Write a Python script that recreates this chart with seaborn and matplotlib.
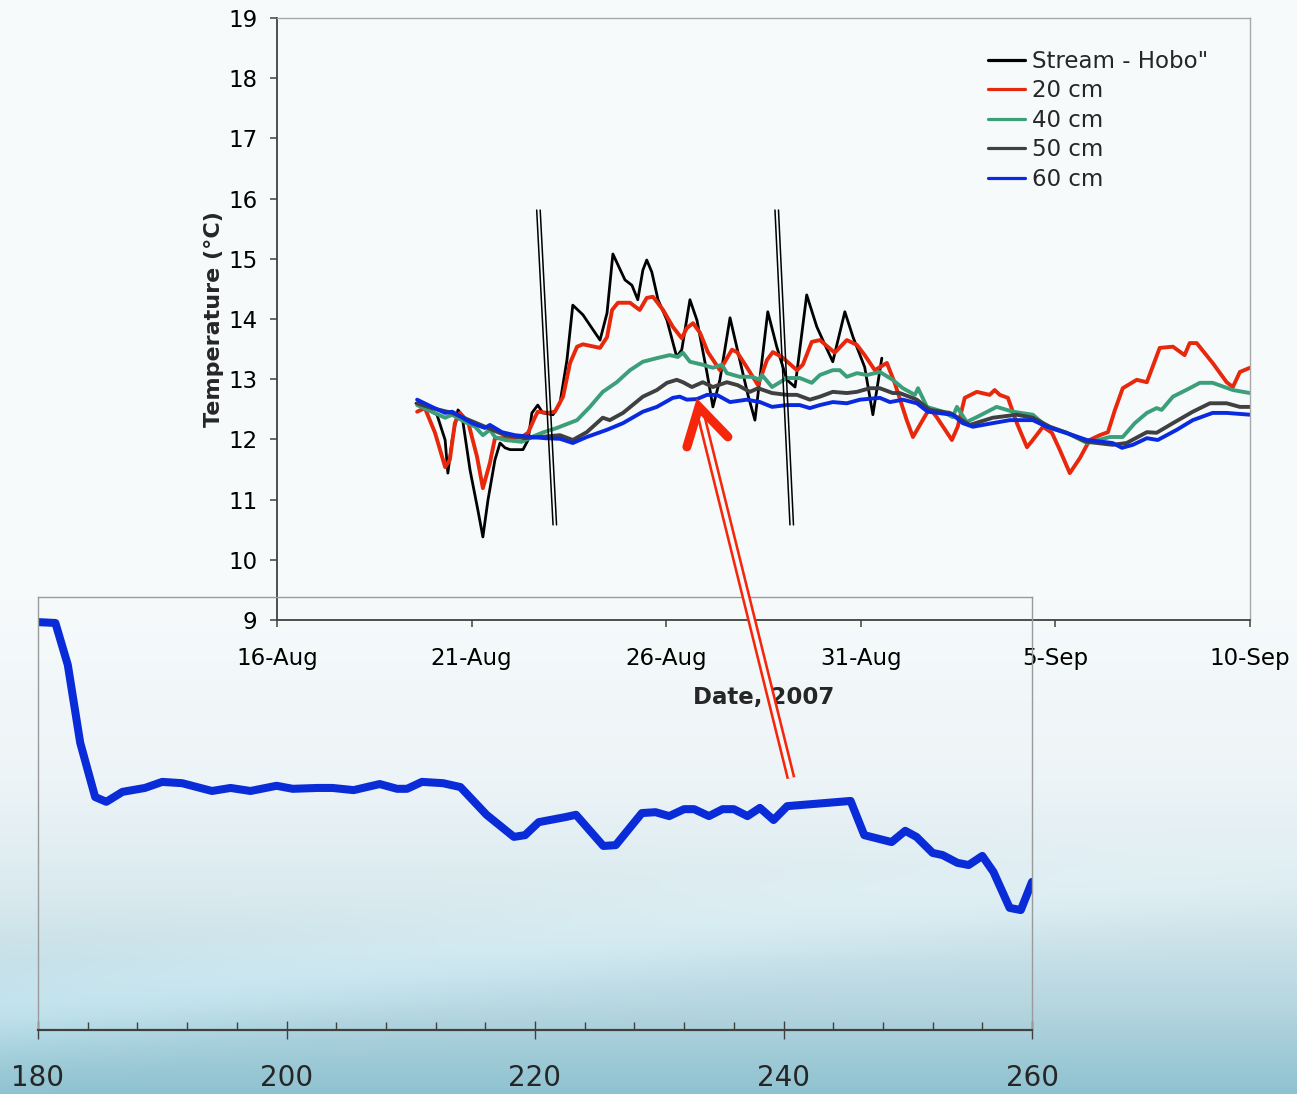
import numpy as np
import pandas as pd
import matplotlib
matplotlib.use("Agg")
import matplotlib.pyplot as plt
import matplotlib.dates as mdates
from matplotlib.lines import Line2D
from matplotlib.patches import ConnectionPatch
from matplotlib.ticker import MultipleLocator
import seaborn as sns

# ---------------- data ----------------
start = pd.Timestamp("2007-08-16")

# days after 16 Aug 2007, temperature in deg C
stream_day = [3.57, 3.80, 4.11, 4.32, 4.39, 4.50, 4.65, 4.75, 4.96, 5.16, 5.29, 5.42, 5.60, 5.73, 5.86,
              5.99, 6.32, 6.45, 6.55, 6.70, 6.83, 7.09, 7.27, 7.45, 7.60, 7.86, 8.09, 8.30, 8.48, 8.63,
              8.76, 8.94, 9.12, 9.27, 9.40, 9.50, 9.63, 9.79, 10.02, 10.27, 10.40, 10.61, 10.79, 11.05,
              11.20, 11.38, 11.64, 11.89, 12.10, 12.28, 12.61, 12.84, 13.10, 13.31, 13.61, 13.87, 14.08,
              14.28, 14.59, 14.80, 15.10, 15.31, 15.54]
stream_temp = [12.60, 12.52, 12.41, 11.99, 11.44, 11.99, 12.49, 12.41, 11.49, 10.83, 10.38, 10.99, 11.66,
               11.94, 11.86, 11.83, 11.83, 11.99, 12.44, 12.57, 12.44, 12.41, 12.60, 13.32, 14.23, 14.07,
               13.85, 13.65, 14.10, 15.08, 14.90, 14.65, 14.56, 14.32, 14.81, 14.98, 14.78, 14.32, 13.98,
               13.37, 13.49, 14.32, 13.98, 13.10, 12.54, 12.99, 14.02, 13.32, 12.74, 12.32, 14.12, 13.54,
               12.99, 12.87, 14.40, 13.87, 13.57, 13.29, 14.12, 13.70, 13.20, 12.41, 13.35]

cm20_day = [3.60, 3.80, 4.06, 4.32, 4.44, 4.57, 4.70, 4.91, 5.14, 5.29, 5.47, 5.60, 5.78, 6.04, 6.29, 6.45,
            6.63, 6.70, 6.96, 7.14, 7.35, 7.53, 7.71, 7.86, 8.30, 8.48, 8.61, 8.76, 9.07, 9.32, 9.50, 9.66,
            9.92, 10.17, 10.40, 10.53, 10.69, 10.87, 11.07, 11.38, 11.69, 11.82, 12.07, 12.36, 12.59, 12.74,
            12.97, 13.36, 13.51, 13.74, 13.95, 14.33, 14.64, 14.90, 15.10, 15.36, 15.67, 15.87, 16.18, 16.34,
            16.59, 16.77, 16.95, 17.34, 17.49, 17.67, 17.98, 18.31, 18.44, 18.57, 18.78, 19.01, 19.27, 19.42,
            19.68, 19.91, 20.11, 20.37, 20.63, 20.88, 21.14, 21.35, 21.53, 21.73, 22.09, 22.35, 22.68, 23.02,
            23.32, 23.45, 23.63, 24.04, 24.40, 24.56, 24.74, 25.00]
cm20_temp = [12.46, 12.52, 12.11, 11.54, 11.66, 12.27, 12.44, 12.29, 11.71, 11.19, 11.61, 12.02, 12.02, 12.02,
             12.04, 12.11, 12.37, 12.46, 12.44, 12.46, 12.71, 13.27, 13.54, 13.58, 13.52, 13.70, 14.15, 14.27,
             14.27, 14.15, 14.35, 14.37, 14.15, 13.87, 13.68, 13.85, 13.93, 13.77, 13.45, 13.15, 13.49, 13.45,
             13.20, 12.90, 13.32, 13.45, 13.37, 13.15, 13.24, 13.62, 13.65, 13.44, 13.65, 13.57, 13.40, 13.15,
             13.27, 12.94, 12.32, 12.04, 12.32, 12.52, 12.37, 11.99, 12.21, 12.69, 12.79, 12.74, 12.82, 12.74,
             12.69, 12.27, 11.87, 11.99, 12.21, 12.11, 11.83, 11.44, 11.69, 11.99, 12.07, 12.12, 12.49, 12.85,
             12.99, 12.95, 13.52, 13.54, 13.40, 13.60, 13.60, 13.27, 12.95, 12.87, 13.12, 13.19]

cm40_day = [3.60, 3.98, 4.32, 4.50, 4.83, 5.09, 5.29, 5.47, 5.60, 5.86, 6.29, 6.55, 6.81, 7.19, 7.71, 8.04,
            8.37, 8.73, 9.07, 9.40, 9.76, 10.09, 10.30, 10.43, 10.61, 10.94, 11.20, 11.43, 11.56, 11.89, 12.20,
            12.41, 12.46, 12.72, 13.10, 13.43, 13.74, 13.95, 14.28, 14.46, 14.64, 14.90, 15.16, 15.49, 15.82,
            16.08, 16.39, 16.47, 16.70, 17.11, 17.36, 17.47, 17.72, 17.98, 18.49, 18.91, 19.42, 19.78, 20.29,
            20.81, 21.40, 21.73, 22.04, 22.35, 22.60, 22.73, 23.02, 23.45, 23.71, 24.04, 24.56, 25.00]
cm40_temp = [12.57, 12.46, 12.36, 12.41, 12.29, 12.21, 12.07, 12.16, 12.04, 11.99, 11.96, 12.04, 12.11, 12.19,
             12.32, 12.54, 12.79, 12.95, 13.15, 13.29, 13.35, 13.40, 13.37, 13.44, 13.29, 13.24, 13.19, 13.24,
             13.10, 13.04, 13.04, 12.99, 13.07, 12.87, 13.02, 13.02, 12.94, 13.07, 13.15, 13.15, 13.04, 13.10,
             13.07, 13.12, 12.99, 12.85, 12.74, 12.85, 12.54, 12.46, 12.37, 12.54, 12.29, 12.37, 12.54, 12.46,
             12.41, 12.21, 12.11, 11.94, 12.04, 12.04, 12.27, 12.44, 12.52, 12.49, 12.71, 12.85, 12.94, 12.94,
             12.82, 12.77]

cm50_day = [3.60, 3.98, 4.50, 5.42, 5.86, 6.37, 6.76, 7.27, 7.60, 7.96, 8.37, 8.55, 8.89, 9.40, 9.76, 10.02,
            10.27, 10.43, 10.66, 10.94, 11.20, 11.56, 11.84, 12.15, 12.36, 12.72, 13.10, 13.36, 13.69, 13.95,
            14.28, 14.64, 14.90, 15.23, 15.49, 15.82, 16.00, 16.44, 16.77, 17.29, 17.47, 17.80, 18.39, 19.01,
            19.42, 19.86, 20.29, 20.81, 21.47, 21.83, 22.35, 22.60, 23.02, 23.53, 23.97, 24.40, 24.74, 25.00]
cm50_temp = [12.60, 12.52, 12.44, 12.19, 12.07, 12.02, 12.04, 12.07, 11.99, 12.12, 12.36, 12.32, 12.44, 12.71,
             12.82, 12.94, 12.99, 12.95, 12.87, 12.95, 12.87, 12.95, 12.90, 12.79, 12.85, 12.77, 12.74, 12.74,
             12.66, 12.71, 12.79, 12.77, 12.79, 12.85, 12.85, 12.77, 12.77, 12.66, 12.49, 12.44, 12.37, 12.24,
             12.36, 12.41, 12.36, 12.21, 12.11, 11.96, 11.91, 11.94, 12.12, 12.11, 12.27, 12.46, 12.60, 12.60,
             12.54, 12.54]

cm60_day = [3.60, 3.98, 4.32, 4.50, 5.01, 5.34, 5.47, 5.78, 6.11, 6.55, 6.88, 7.27, 7.60, 7.96, 8.48, 8.89,
            9.40, 9.76, 10.17, 10.35, 10.53, 10.79, 11.05, 11.30, 11.64, 12.07, 12.41, 12.72, 13.10, 13.43,
            13.69, 13.95, 14.28, 14.64, 14.98, 15.49, 15.75, 16.08, 16.44, 16.72, 17.36, 17.62, 17.88, 18.39,
            18.83, 19.42, 19.78, 20.45, 20.81, 21.47, 21.71, 21.99, 22.35, 22.63, 23.12, 23.53, 24.04, 24.40, 25.00]
cm60_temp = [12.66, 12.54, 12.44, 12.46, 12.27, 12.19, 12.24, 12.12, 12.07, 12.04, 12.02, 12.01, 11.94, 12.04,
             12.16, 12.27, 12.46, 12.54, 12.69, 12.71, 12.66, 12.67, 12.74, 12.74, 12.62, 12.66, 12.62, 12.54,
             12.57, 12.57, 12.52, 12.57, 12.62, 12.60, 12.66, 12.69, 12.62, 12.66, 12.60, 12.46, 12.41, 12.27,
             12.21, 12.27, 12.32, 12.32, 12.21, 12.07, 11.99, 11.94, 11.86, 11.91, 12.02, 11.99, 12.16, 12.32,
             12.44, 12.44, 12.41]

series_labels = ['Stream - Hobo"', "20 cm", "40 cm", "50 cm", "60 cm"]
series_colors = ["#000000", "#E8280C", "#3C9F7A", "#404040", "#0A2AE0"]

tick_days = [0, 5, 10, 15, 20, 25]
tick_labels = ["16-Aug", "21-Aug", "26-Aug", "31-Aug", "5-Sep", "10-Sep"]

# inset: day of year and relative level
inset_day = [180.0, 181.4, 182.4, 183.4, 184.6, 185.5, 186.8, 188.6, 190.0, 191.6, 194.0, 195.5, 197.1,
             199.2, 200.5, 202.5, 203.7, 205.4, 207.5, 208.9, 209.7, 210.9, 212.6, 214.0, 216.1, 218.3,
             219.2, 220.3, 222.5, 223.3, 225.5, 226.5, 228.6, 229.7, 230.8, 232.0, 232.8, 234.0, 235.1,
             236.0, 237.1, 238.1, 239.2, 240.3, 245.4, 246.5, 248.7, 249.8, 250.7, 252.0, 252.8, 254.0,
             254.9, 256.0, 256.9, 258.2, 259.1, 260.0]
inset_level = [9.42, 9.40, 8.43, 6.63, 5.38, 5.27, 5.50, 5.59, 5.73, 5.70, 5.52, 5.59, 5.52, 5.64, 5.57,
               5.59, 5.59, 5.54, 5.68, 5.57, 5.57, 5.73, 5.70, 5.61, 4.97, 4.46, 4.50, 4.80, 4.92, 4.97,
               4.25, 4.27, 5.01, 5.03, 4.94, 5.10, 5.10, 4.94, 5.10, 5.10, 4.94, 5.13, 4.85, 5.17, 5.29,
               4.50, 4.34, 4.60, 4.46, 4.09, 4.04, 3.86, 3.81, 4.02, 3.65, 2.82, 2.77, 3.42]
inset_ticks = [180, 200, 220, 240, 260]

# arrow from inset (day, level) to main chart (day offset, temperature)
arrow_from = (240.6, 5.82)
arrow_to = (10.84, 12.54)

# ---------------- figure ----------------
sns.set_style("ticks")
plt.rcParams["font.family"] = ["DejaVu Sans"]

W, H = 1297, 1094
fig = plt.figure(figsize=(W / 100, H / 100), dpi=100)

# slide background: pale at top, teal-blue towards the bottom
rows = np.arange(H, dtype=float)
stops_y = [0, 600, 780, 900, 1000, H]
stops_c = np.array([[248, 251, 252], [246, 250, 251], [237, 244, 247],
                    [216, 233, 238], [184, 215, 225], [142, 194, 208]], dtype=float)
col = np.stack([np.interp(rows, stops_y, stops_c[:, k]) for k in range(3)], axis=1)
bg = np.repeat(col[:, None, :], W, axis=1)
xx = np.arange(W, dtype=float)[None, :]
yy = rows[:, None]
band = np.exp(-((yy - (1010 - 0.12 * xx)) / 45.0) ** 2) * np.clip((yy - 820) / 200, 0, 1)
bg = bg + band[..., None] * 14
bg = np.clip(bg, 0, 255) / 255.0
fig.figimage(bg, xo=0, yo=0, origin="upper", zorder=-10)

# ---------------- main chart ----------------
ax = fig.add_axes([277 / W, 1 - 620 / H, 973 / W, 602 / H])
ax.set_facecolor("none")

frames = []
for lab, d, t in zip(series_labels,
                     [stream_day, cm20_day, cm40_day, cm50_day, cm60_day],
                     [stream_temp, cm20_temp, cm40_temp, cm50_temp, cm60_temp]):
    frames.append(pd.DataFrame({"date": start + pd.to_timedelta(d, unit="D"),
                                "temp": t, "series": lab}))
df = pd.concat(frames, ignore_index=True)

for lab, c in zip(series_labels, series_colors):
    sub = df[df["series"] == lab]
    sns.lineplot(data=sub, x="date", y="temp", ax=ax, color=c,
                 lw=2.0 if lab.startswith("Stream") else 2.8,
                 estimator=None, sort=False, legend=False)

ax.set_xlim(start, start + pd.Timedelta(days=25))
ax.set_ylim(9, 19)
ax.yaxis.set_major_locator(MultipleLocator(1))
ax.set_xticks([start + pd.Timedelta(days=k) for k in tick_days])
ax.set_xticklabels(tick_labels)

for s in ["left", "bottom"]:
    ax.spines[s].set_color("#404040")
    ax.spines[s].set_linewidth(1.3)
for s in ["top", "right"]:
    ax.spines[s].set_color("#A8A8A8")
    ax.spines[s].set_linewidth(1.0)
ax.tick_params(axis="both", direction="out", length=5, width=1.1, color="#404040",
               labelsize=16.5, labelcolor="black")
ax.tick_params(axis="x", pad=14.5)
ax.tick_params(axis="y", pad=9)

ax.set_xlabel("Date, 2007", fontsize=16.5, fontweight="bold", va="center")
ax.xaxis.set_label_coords(0.5, -0.128)
ax.set_ylabel("Temperature (°C)", fontsize=16, fontweight="bold", va="center")
ax.yaxis.set_label_coords(-0.0647, 0.5)

handles = [Line2D([0], [0], color=c, lw=2.3) for c in series_colors]
ax.legend(handles, series_labels, loc="upper left", bbox_to_anchor=(0.7307, 0.947),
          frameon=False, fontsize=16.5, handlelength=1.6, handletextpad=0.3,
          labelspacing=0.28, borderpad=0, borderaxespad=0)

# axis-break marks (pairs of slanted lines)
for x0, x1 in [(0.2669, 0.2837), (0.5118, 0.5272)]:
    for off in (0.0, 0.0036):
        ax.plot([x0 + off, x1 + off], [0.681, 0.158], transform=ax.transAxes,
                color="black", lw=1.1, clip_on=False, zorder=6)

# ---------------- inset ----------------
axi = fig.add_axes([38 / W, 1 - 1030 / H, 994 / W, 433 / H])
axi.set_facecolor("none")
sns.lineplot(x=inset_day, y=inset_level, ax=axi, color="#0A2CD8", lw=5.8,
             estimator=None, sort=False)
axi.set_xlim(180, 260)
axi.set_ylim(0, 10)
axi.set_yticks([])
axi.set_xticks(inset_ticks)
axi.xaxis.set_minor_locator(MultipleLocator(4))
axi.tick_params(axis="x", which="major", direction="inout", length=13, width=1.0,
                color="#404040", labelsize=20, pad=18)
axi.tick_params(axis="x", which="minor", direction="in", length=6, width=1.0, color="#404040")
for s in ["left", "top", "right"]:
    axi.spines[s].set_color("#9A9A9A")
    axi.spines[s].set_linewidth(1.0)
axi.spines["bottom"].set_color("#404040")
axi.spines["bottom"].set_linewidth(1.6)

# ---------------- arrow linking inset to main chart ----------------
red = "#F5260A"
tip = (mdates.date2num(start + pd.Timedelta(days=arrow_to[0])), arrow_to[1])
for lw, c in [(6.5, red), (2.8, "#F4F8FA")]:
    cp = ConnectionPatch(xyA=arrow_from, coordsA=axi.transData, xyB=tip, coordsB=ax.transData,
                         arrowstyle="-", color=c, lw=lw, shrinkA=0, shrinkB=0, zorder=8,
                         capstyle="butt")
    fig.add_artist(cp)

tip_px = ax.transData.transform(tip)
head_px = np.array([tip_px + [-12, -40], tip_px, tip_px + [29, -30]])
head_fig = fig.transFigure.inverted().transform(head_px)
fig.add_artist(Line2D(head_fig[:, 0], head_fig[:, 1], transform=fig.transFigure,
                      color=red, lw=6.5, solid_capstyle="round", solid_joinstyle="miter",
                      zorder=9))

fig.savefig("out.png", dpi=100)
